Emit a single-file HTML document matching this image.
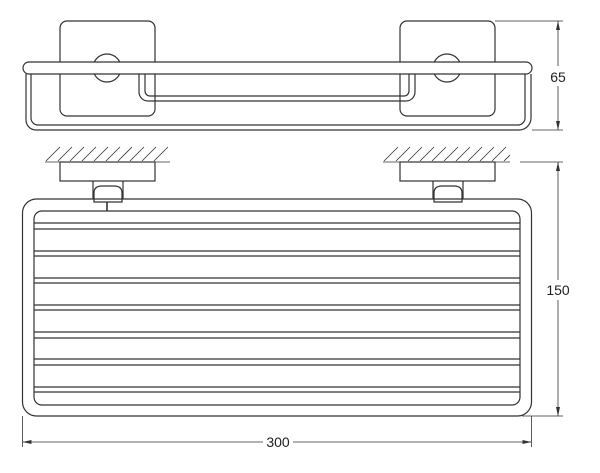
<!DOCTYPE html>
<html><head><style>html,body{margin:0;padding:0;background:#fff}svg{display:block}</style></head>
<body>
<svg width="600" height="473" viewBox="0 0 600 473" xmlns="http://www.w3.org/2000/svg" fill="none" stroke="#333" stroke-width="1.2" font-family="'Liberation Sans', sans-serif">
<!-- TOP VIEW -->
<rect x="60" y="21" width="95" height="95" rx="7"/>
<rect x="400" y="21" width="95" height="95" rx="7"/>
<circle cx="107" cy="68" r="14"/>
<circle cx="447" cy="68" r="14"/>
<!-- frame outer/inner -->
<path d="M26 74 V120 a10 10 0 0 0 10 10 H519 a12 12 0 0 0 12 -12 V74"/>
<path d="M31 74 V118 a7 7 0 0 0 7 7 H518 a7 7 0 0 0 7 -7 V74"/>
<!-- inner U -->
<path d="M139 74 V92 a9 9 0 0 0 9 9 H406 a9 9 0 0 0 9 -9 V74"/>
<path d="M145 74 V91 a5 5 0 0 0 5 5 H404 a5 5 0 0 0 5 -5 V74"/>
<!-- rail -->
<rect x="23" y="62" width="509" height="12" rx="6" fill="#fff"/>
<!-- dim 65 -->
<line x1="495" y1="21" x2="563" y2="21" stroke-width="0.8"/>
<line x1="532" y1="130" x2="563" y2="130" stroke-width="0.8"/>
<line x1="558" y1="21" x2="558" y2="130" stroke-width="0.8"/>
<path d="M558 21 l-2 9 h4z M558 130 l-2 -9 h4z" fill="#333" stroke="none"/>
<rect x="549" y="66" width="18" height="20" fill="#fff" stroke="none"/>
<text x="558" y="82" font-size="14" fill="#222" stroke="none" text-anchor="middle">65</text>
<!-- WALL hatch -->
<g stroke-width="0.8">
<line x1="45" y1="162" x2="170" y2="162"/>
<line x1="383" y1="162" x2="510" y2="162"/>
<path d="M46 161 l14 -14 M58 161 l14 -14 M70 161 l14 -14 M82 161 l14 -14 M94 161 l14 -14 M106 161 l14 -14 M118 161 l14 -14 M130 161 l14 -14 M142 161 l14 -14 M154 161 l14 -14"/>
<path d="M384 161 l14 -14 M396 161 l14 -14 M408 161 l14 -14 M420 161 l14 -14 M432 161 l14 -14 M444 161 l14 -14 M456 161 l14 -14 M468 161 l14 -14 M480 161 l14 -14 M492 161 l14 -14 M504 161 l6 -6"/>
</g>
<rect x="60" y="162" width="95" height="19"/>
<rect x="400" y="162" width="95" height="19"/>
<path d="M93 181 V199 M123 181 V199 M433 181 V199 M463 181 V199"/>
<path d="M94 202 V193 q0 -7 8 -7 h12 q8 0 8 7 V202 q0 0 -2 0 h-26 z" fill="#fff"/>
<path d="M434 202 V193 q0 -7 8 -7 h12 q8 0 8 7 V202 h-28 z" fill="#fff"/>
<line x1="107" y1="202" x2="107" y2="211" stroke-width="1.6"/>
<!-- BASKET -->
<rect x="22.5" y="199" width="509" height="217" rx="14"/>
<rect x="34" y="211" width="486" height="194" rx="8"/>
<g>
<line x1="34" y1="223" x2="520" y2="223"/><line x1="34" y1="229" x2="520" y2="229"/>
<line x1="34" y1="251" x2="520" y2="251"/><line x1="34" y1="256" x2="520" y2="256"/>
<line x1="34" y1="278" x2="520" y2="278"/><line x1="34" y1="283" x2="520" y2="283"/>
<line x1="34" y1="305" x2="520" y2="305"/><line x1="34" y1="310" x2="520" y2="310"/>
<line x1="34" y1="332" x2="520" y2="332"/><line x1="34" y1="338" x2="520" y2="338"/>
<line x1="34" y1="359" x2="520" y2="359"/><line x1="34" y1="365" x2="520" y2="365"/>
<line x1="34" y1="387" x2="520" y2="387"/><line x1="34" y1="392" x2="520" y2="392"/>
</g>
<!-- dim 150 -->
<g stroke-width="0.8">
<line x1="520" y1="162" x2="563" y2="162"/>
<line x1="522" y1="416" x2="563" y2="416"/>
<line x1="558" y1="162" x2="558" y2="416"/>
<line x1="22.5" y1="416" x2="22.5" y2="447"/>
<line x1="531.5" y1="416" x2="531.5" y2="447"/>
<line x1="22.5" y1="442" x2="531.5" y2="442"/>
</g>
<path d="M558 162 l-2 9 h4z M558 416 l-2 -9 h4z M22.5 442 l9 -2 v4z M531.5 442 l-9 -2 v4z" fill="#333" stroke="none"/>
<rect x="544" y="280" width="28" height="20" fill="#fff" stroke="none"/>
<text x="558" y="295" font-size="14" fill="#222" stroke="none" text-anchor="middle">150</text>
<rect x="263" y="432" width="30" height="20" fill="#fff" stroke="none"/>
<text x="278" y="447" font-size="14" fill="#222" stroke="none" text-anchor="middle">300</text>
</svg>
</body></html>
